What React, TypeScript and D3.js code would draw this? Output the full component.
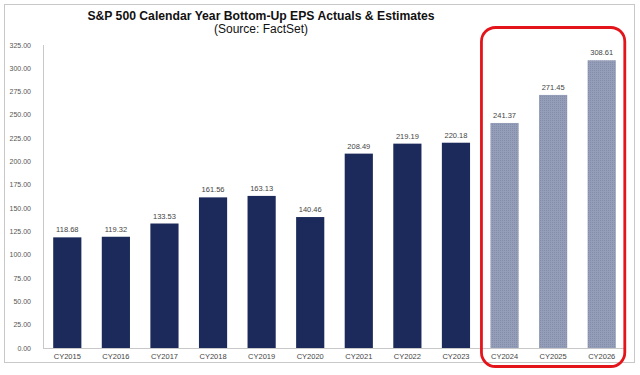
import React from "react";
import * as d3 from "d3";

const categories = ["CY2015","CY2016","CY2017","CY2018","CY2019","CY2020","CY2021","CY2022","CY2023","CY2024","CY2025","CY2026"];
const values = [118.68,119.32,133.53,161.56,163.13,140.46,208.49,219.19,220.18,241.37,271.45,308.61];
const isEstimate = [false,false,false,false,false,false,false,false,false,true,true,true];
const yTicks = [0,25,50,75,100,125,150,175,200,225,250,275,300,325];
const title = "S&P 500 Calendar Year Bottom-Up EPS Actuals & Estimates";
const subtitle = "(Source: FactSet)";

export default function App() {
  const W = 640, H = 375;
  const x = d3.scaleBand<string>().domain(categories).range([43, 626]).paddingInner(0.42).paddingOuter(0.21);
  const y = d3.scaleLinear().domain([0, 325]).range([348, 45]);
  const fmt = d3.format(".2f");
  const estCats = categories.filter((_, i) => isEstimate[i]);
  const rx0 = (x(estCats[0]) as number) - 9;
  const rx1 = (x(estCats[estCats.length - 1]) as number) + x.bandwidth() + 9;
  return (
    <svg width={W} height={H} style={{ position: "absolute", left: 0, top: 0, background: "#fff" }} fontFamily="Liberation Sans, Arial, sans-serif">
      <defs>
        <pattern id="dots" width="2" height="2" patternUnits="userSpaceOnUse">
          <rect width="2" height="2" fill="#959eb8" />
          <rect width="1" height="1" fill="#838da9" />
        </pattern>
      </defs>
      <rect x={4.5} y={4.5} width={630} height={358} fill="#fff" stroke="#c8c8c8" strokeWidth={1} />
      <text x={261} y={20} textAnchor="middle" fontSize={12.2} fontWeight="bold" fill="#111">{title}</text>
      <text x={261} y={33} textAnchor="middle" fontSize={12} fill="#111">{subtitle}</text>
      <line x1={43.5} x2={43.5} y1={45} y2={348} stroke="#c8c8c8" />
      <line x1={43} x2={626} y1={348.5} y2={348.5} stroke="#c8c8c8" />
      {yTicks.map(t => (
        <text key={t} x={31} y={y(t) + 2.5} textAnchor="end" fontSize={7} fill="#555">{fmt(t)}</text>
      ))}
      {categories.map((c, i) => {
        const bx = x(c) as number;
        return (
          <g key={c}>
            <rect x={bx} y={y(values[i])} width={x.bandwidth()} height={y(0) - y(values[i])}
              fill={isEstimate[i] ? "url(#dots)" : "#1b2a5a"} />
            <text x={bx + x.bandwidth() / 2} y={y(values[i]) - 5} textAnchor="middle" fontSize={7.5} fill="#444">{fmt(values[i])}</text>
            <text x={bx + x.bandwidth() / 2} y={359} textAnchor="middle" fontSize={7.5} fill="#444">{c}</text>
          </g>
        );
      })}
      <rect x={rx0} y={27.5} width={rx1 - rx0} height={339} rx={14} ry={14} fill="none" stroke="#e3151b" strokeWidth={2.8} />
    </svg>
  );
}
